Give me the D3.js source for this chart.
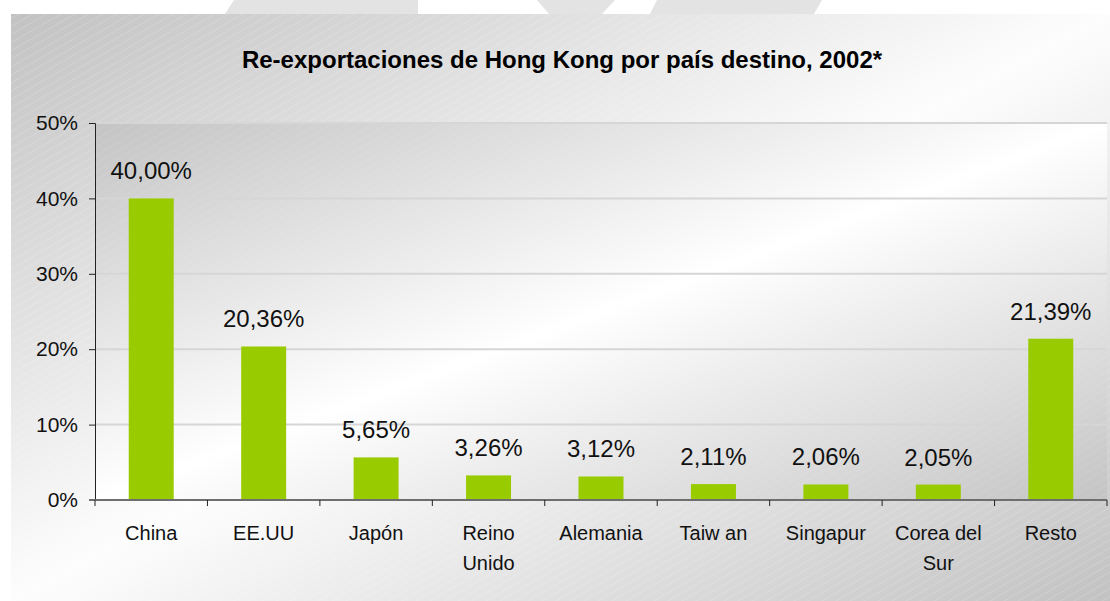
<!DOCTYPE html>
<html>
<head>
<meta charset="utf-8">
<title>Re-exportaciones de Hong Kong</title>
<script src="https://d3js.org/d3.v7.min.js"></script>
<style>
  body { margin: 0; background: #fff; }
  svg { display: block; font-family: "Liberation Sans", Arial, sans-serif; }
</style>
</head>
<body>
<svg id="chart" width="1110" height="601"></svg>
<script>
// data
const categories = ["China", "EE.UU", "Japón", "Reino\nUnido", "Alemania", "Taiw an", "Singapur", "Corea del\nSur", "Resto"];
const shares = [40.00, 20.36, 5.65, 3.26, 3.12, 2.11, 2.06, 2.05, 21.39];
const yTicks = [0, 10, 20, 30, 40, 50];
const title = "Re-exportaciones de Hong Kong por país destino, 2002*";

const svg = d3.select("#chart");
const defs = svg.append("defs");

// diagonal gray -> white -> gray fill
function diagGradient(id, edge, mid) {
    const g = defs.append("linearGradient").attr("id", id)
        .attr("x1", 0).attr("y1", 0).attr("x2", 1).attr("y2", 1);
    g.append("stop").attr("offset", "0%").attr("stop-color", edge);
    g.append("stop").attr("offset", "50%").attr("stop-color", mid);
    g.append("stop").attr("offset", "100%").attr("stop-color", edge);
}
diagGradient("bgGrad", "#c2c2c2", "#fdfdfd");
diagGradient("plotGrad", "#c4c4c4", "#ffffff");

// faint hatching
const pat = defs.append("pattern").attr("id", "hatch")
    .attr("patternUnits", "userSpaceOnUse")
    .attr("width", 7).attr("height", 7)
    .attr("patternTransform", "rotate(-30)");
pat.append("line").attr("x1", 0).attr("y1", 0).attr("x2", 7).attr("y2", 0)
    .attr("stroke", "#ffffff").attr("stroke-width", 1).attr("stroke-opacity", 0.3);

// watermark shapes in the top strip
const marks = [
    [[234, 0], [418, 0], [418, 14], [225, 14]],
    [[537, 0], [615, 0], [602, 14], [549, 14]],
    [[657, 0], [822, 0], [814, 14], [650, 14]]
];
svg.selectAll("polygon.mark").data(marks).enter().append("polygon")
    .attr("class", "mark")
    .attr("points", d => d.map(p => p.join(",")).join(" "))
    .attr("fill", "#e3e3e3");

// chart background
svg.append("rect").attr("x", 11).attr("y", 14).attr("width", 1099).attr("height", 587)
    .attr("fill", "url(#bgGrad)");
svg.append("rect").attr("x", 11).attr("y", 14).attr("width", 1099).attr("height", 587)
    .attr("fill", "url(#hatch)");

// title
svg.append("text")
    .attr("x", 562).attr("y", 68)
    .attr("text-anchor", "middle")
    .attr("font-size", 24).attr("font-weight", "bold")
    .attr("fill", "#000")
    .text(title);

// plot area
const plot = { left: 95, right: 1107, top: 123, bottom: 500 };

const x = d3.scaleBand()
    .domain(categories)
    .range([plot.left, plot.right])
    .paddingInner(0.6)
    .paddingOuter(0.3);

const y = d3.scaleLinear()
    .domain([0, 50])
    .range([plot.bottom, plot.top]);

svg.append("rect")
    .attr("x", plot.left).attr("y", plot.top)
    .attr("width", plot.right - plot.left).attr("height", plot.bottom - plot.top)
    .attr("fill", "url(#plotGrad)");
svg.append("rect")
    .attr("x", plot.left).attr("y", plot.top)
    .attr("width", plot.right - plot.left).attr("height", plot.bottom - plot.top)
    .attr("fill", "url(#hatch)").attr("opacity", 0.5);

// gridlines
svg.append("g").selectAll("line")
    .data(yTicks.filter(t => t > 0))
    .enter().append("line")
    .attr("x1", plot.left).attr("x2", plot.right)
    .attr("y1", d => y(d)).attr("y2", d => y(d))
    .attr("stroke", "#d6d6d6").attr("stroke-width", 2);

// bars
svg.append("g").selectAll("rect")
    .data(shares)
    .enter().append("rect")
    .attr("x", (d, i) => x(categories[i]))
    .attr("width", x.bandwidth())
    .attr("y", d => y(d))
    .attr("height", d => y(0) - y(d))
    .attr("fill", "#99cc00");

// value labels
const fmt = v => v.toFixed(2).replace(".", ",") + "%";
svg.append("g").selectAll("text")
    .data(shares)
    .enter().append("text")
    .attr("x", (d, i) => x(categories[i]) + x.bandwidth() / 2)
    .attr("y", d => y(d) - 19)
    .attr("text-anchor", "middle")
    .attr("font-size", 24)
    .attr("fill", "#111")
    .text(fmt);

// y axis
const yAxis = d3.axisLeft(y)
    .tickValues(yTicks)
    .tickFormat(d => d + "%")
    .tickSize(6)
    .tickPadding(11);
const gy = svg.append("g")
    .attr("transform", `translate(${plot.left},0)`)
    .call(yAxis);
gy.select(".domain").attr("stroke", "#222");
gy.selectAll(".tick line").attr("stroke", "#222");
gy.selectAll(".tick text")
    .attr("font-size", 21)
    .attr("font-family", "Liberation Sans, Arial, sans-serif")
    .attr("fill", "#111");

// x axis line and ticks at band boundaries
const step = x.step();
const bounds = d3.range(categories.length + 1).map(i => plot.left + i * step);
svg.append("line")
    .attr("x1", plot.left - 6).attr("x2", plot.right)
    .attr("y1", plot.bottom).attr("y2", plot.bottom)
    .attr("stroke", "#6e6e6e").attr("stroke-width", 2);
svg.append("g").selectAll("line")
    .data(bounds)
    .enter().append("line")
    .attr("x1", d => d).attr("x2", d => d)
    .attr("y1", plot.bottom).attr("y2", plot.bottom + 6)
    .attr("stroke", "#222");

// category labels
const cat = svg.append("g").selectAll("text")
    .data(categories)
    .enter().append("text")
    .attr("x", d => x(d) + x.bandwidth() / 2)
    .attr("y", 540)
    .attr("text-anchor", "middle")
    .attr("font-size", 20)
    .attr("fill", "#111");
cat.each(function (d) {
    const t = d3.select(this);
    d.split("\n").forEach((line, i) => {
        t.append("tspan")
            .attr("x", x(d) + x.bandwidth() / 2)
            .attr("dy", i === 0 ? 0 : 30)
            .text(line);
    });
});
</script>
</body>
</html>
